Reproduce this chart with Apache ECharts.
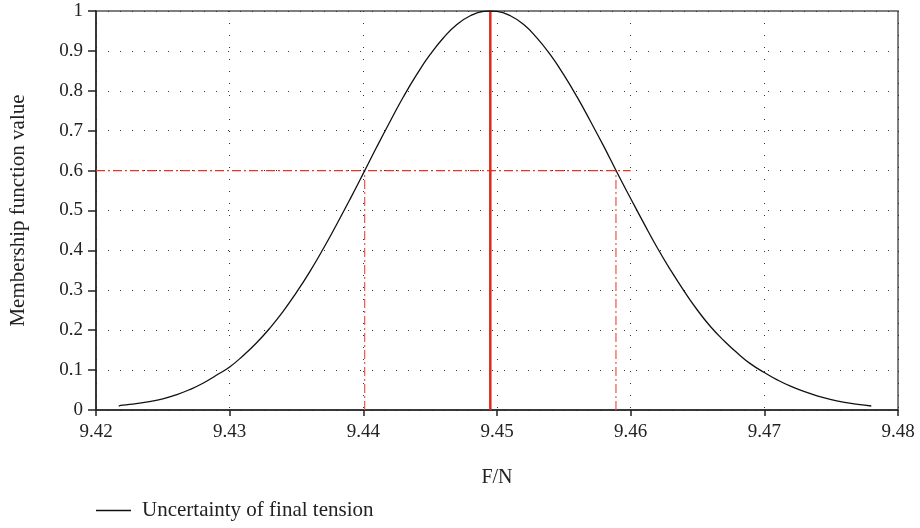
<!DOCTYPE html>
<html>
<head>
<meta charset="utf-8">
<script src="https://cdn.jsdelivr.net/npm/echarts@6/dist/echarts.min.js"></script>
<style>
  html, body { margin: 0; padding: 0; background: #fff; }
  #chart { width: 920px; height: 528px; }
</style>
</head>
<body>
<div id="chart"></div>
<script>
  // membership curve
  var forceX = [9.4217, 9.422, 9.423, 9.424, 9.425, 9.426, 9.427, 9.428, 9.429, 9.430,
    9.431, 9.432, 9.433, 9.434, 9.435, 9.436, 9.437, 9.438, 9.439, 9.440,
    9.441, 9.442, 9.443, 9.444, 9.445, 9.446, 9.447, 9.448, 9.449, 9.4495,
    9.450, 9.451, 9.452, 9.453, 9.454, 9.455, 9.456, 9.457, 9.458, 9.459,
    9.460, 9.461, 9.462, 9.463, 9.464, 9.465, 9.466, 9.467, 9.468, 9.469,
    9.470, 9.471, 9.472, 9.473, 9.474, 9.475, 9.476, 9.477, 9.478];
  var memberY = [0.010, 0.012, 0.016, 0.021, 0.028, 0.038, 0.051, 0.067, 0.087, 0.108,
    0.136, 0.168, 0.205, 0.247, 0.295, 0.347, 0.404, 0.465, 0.528, 0.593,
    0.659, 0.723, 0.785, 0.841, 0.891, 0.933, 0.966, 0.988, 0.999, 1.000,
    0.999, 0.988, 0.966, 0.932, 0.890, 0.840, 0.784, 0.723, 0.660, 0.594,
    0.530, 0.467, 0.406, 0.350, 0.298, 0.250, 0.208, 0.173, 0.142, 0.115,
    0.094, 0.075, 0.059, 0.046, 0.035, 0.026, 0.019, 0.014, 0.010];

  var peakX = 9.4495;
  var cutLevel = 0.6;
  var cutLeft = 9.4401;
  var cutRight = 9.4589;
  var cutEnd = 9.46;

  var xTicks = [9.42, 9.43, 9.44, 9.45, 9.46, 9.47, 9.48];
  var yTicks = [0, 0.1, 0.2, 0.3, 0.4, 0.5, 0.6, 0.7, 0.8, 0.9, 1];

  var curve = forceX.map(function (x, i) { return [x, memberY[i]]; });
  var dashDot = [9, 3, 2, 3];
  var font = 'Liberation Serif';

  var myChart = echarts.init(document.getElementById('chart'));
  myChart.setOption({
    animation: false,
    textStyle: { fontFamily: font },
    grid: {
      left: 96, top: 11, right: 22, bottom: 118,
      outerBoundsMode: 'none',
      show: true, borderColor: '#555', borderWidth: 1.5
    },
    legend: {
      left: 96, top: 500, padding: 0,
      itemWidth: 35, itemHeight: 1.5, itemGap: 10,
      icon: 'rect',
      data: ['Uncertainty of final tension'],
      textStyle: { fontFamily: font, fontSize: 21, color: '#222', padding: [0, 0, 0, 6] }
    },
    xAxis: {
      type: 'value',
      min: xTicks[0], max: xTicks[xTicks.length - 1], interval: 0.01,
      name: 'F/N', nameLocation: 'middle', nameGap: 58,
      nameTextStyle: { fontFamily: font, fontSize: 20, color: '#222' },
      axisLine: { lineStyle: { color: '#222', width: 1.5 } },
      axisTick: { length: 6, lineStyle: { color: '#222', width: 1.5 } },
      axisLabel: {
        fontFamily: font, fontSize: 19, color: '#222', margin: 13,
        formatter: function (v) { return v.toFixed(2); }
      },
      splitLine: { show: true, lineStyle: { color: '#333', type: [1, 11], width: 1 } }
    },
    yAxis: {
      type: 'value',
      min: 0, max: 1, interval: 0.1,
      name: 'Membership function value', nameLocation: 'middle', nameGap: 67,
      nameTextStyle: { fontFamily: font, fontSize: 21, color: '#222' },
      axisLine: { show: true, lineStyle: { color: '#222', width: 1.5 } },
      axisTick: { show: true, length: 8, lineStyle: { color: '#222', width: 1.5 } },
      axisLabel: {
        fontFamily: font, fontSize: 19, color: '#222', margin: 13,
        formatter: function (v) { return String(Math.round(v * 10) / 10); }
      },
      splitLine: { show: true, lineStyle: { color: '#333', type: [1, 11], width: 1 } }
    },
    series: [
      {
        name: 'cut level',
        type: 'line', symbol: 'none', silent: true,
        data: [[xTicks[0], cutLevel], [cutEnd, cutLevel]],
        lineStyle: { color: '#e8322a', width: 1.2, type: dashDot }
      },
      {
        name: 'cut left',
        type: 'line', symbol: 'none', silent: true,
        data: [[cutLeft, 0], [cutLeft, cutLevel]],
        lineStyle: { color: '#e8564e', width: 1.2, type: dashDot }
      },
      {
        name: 'cut right',
        type: 'line', symbol: 'none', silent: true,
        data: [[cutRight, 0], [cutRight, cutLevel]],
        lineStyle: { color: '#e8564e', width: 1.2, type: dashDot }
      },
      {
        name: 'peak',
        type: 'line', symbol: 'none', silent: true,
        data: [[peakX, 0], [peakX, 1]],
        lineStyle: { color: '#dd2a1b', width: 2.5 }
      },
      {
        name: 'Uncertainty of final tension',
        type: 'line', symbol: 'none', smooth: true,
        data: curve,
        itemStyle: { color: '#111' },
        lineStyle: { color: '#111', width: 1.3 }
      }
    ]
  });
</script>
</body>
</html>
